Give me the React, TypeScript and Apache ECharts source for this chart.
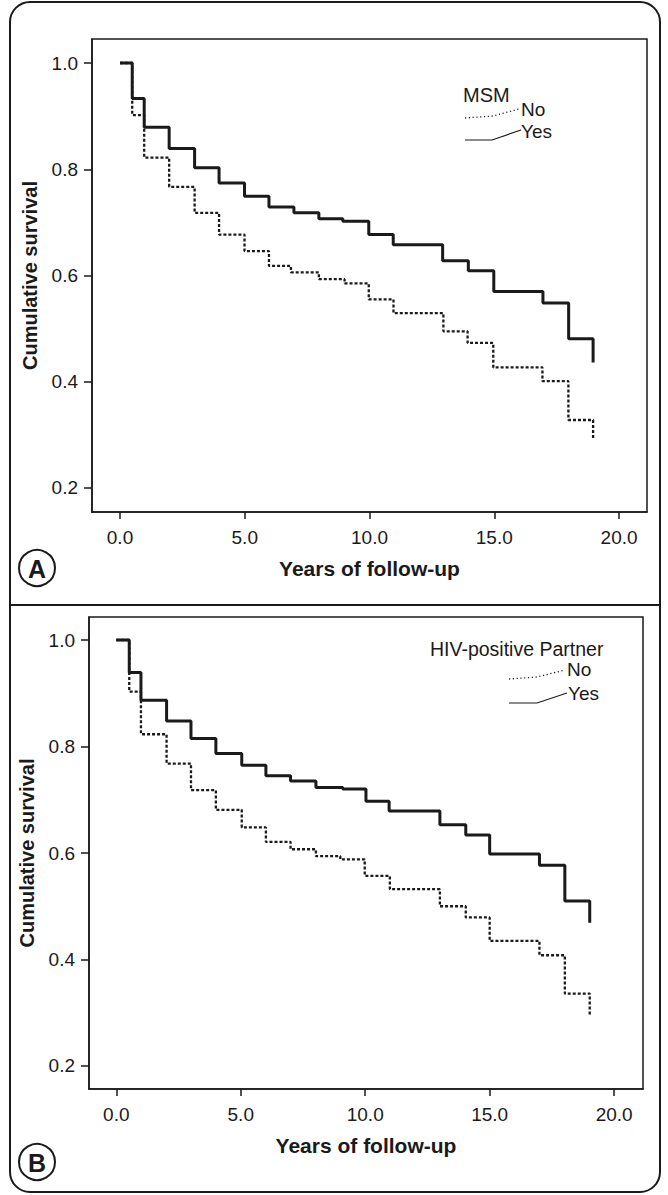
import React, { useEffect, useRef } from "react";
import * as echarts from "echarts";

// Tick values shared by both panels
const xTicks = [0, 5, 10, 15, 20];
const yTicks = [0.2, 0.4, 0.6, 0.8, 1.0];

// Panel A: MSM
const aNoT = [0, 0.49, 0.97, 1.97, 2.99, 3.97, 4.99, 5.97, 6.85, 7.97, 9.0, 9.97, 10.96, 12.96, 13.93, 14.96, 16.93, 17.97, 18.96];
const aNoS = [1.0, 0.902, 0.822, 0.767, 0.718, 0.677, 0.646, 0.618, 0.606, 0.593, 0.585, 0.555, 0.529, 0.495, 0.473, 0.427, 0.401, 0.328, 0.292];
const aYesT = [0, 0.49, 0.97, 1.97, 2.99, 3.97, 4.99, 5.97, 6.97, 7.97, 8.93, 9.97, 10.95, 12.93, 13.96, 14.98, 16.95, 17.98, 18.96];
const aYesS = [1.0, 0.933, 0.879, 0.839, 0.803, 0.774, 0.749, 0.729, 0.718, 0.707, 0.702, 0.677, 0.658, 0.628, 0.609, 0.57, 0.548, 0.481, 0.436];

// Panel B: HIV-positive Partner
const bNoT = [0, 0.52, 0.99, 2.02, 3.0, 4.0, 5.04, 6.01, 7.0, 8.02, 9.0, 9.98, 10.99, 13.0, 14.04, 15.0, 17.0, 18.02, 19.02];
const bNoS = [1.0, 0.903, 0.823, 0.768, 0.718, 0.681, 0.648, 0.621, 0.607, 0.594, 0.588, 0.557, 0.532, 0.5, 0.479, 0.435, 0.408, 0.336, 0.294];
const bYesT = [0, 0.52, 0.99, 2.02, 3.0, 4.0, 5.04, 6.01, 7.0, 8.02, 9.1, 10.03, 10.96, 13.0, 14.04, 15.0, 17.0, 18.02, 19.02];
const bYesS = [1.0, 0.939, 0.887, 0.848, 0.815, 0.787, 0.765, 0.745, 0.735, 0.723, 0.72, 0.697, 0.679, 0.653, 0.634, 0.598, 0.577, 0.51, 0.469];

const legendTitleA = "MSM";
const legendTitleB = "HIV-positive Partner";
const groupLabels = ["No", "Yes"];
const xName = "Years of follow-up";
const yName = "Cumulative survival";

const FONT = '"Liberation Sans", Arial, Helvetica, sans-serif';
const INK = "#1a1a1a";

function pairs(t: number[], s: number[]) {
  return t.map((v, i) => [v, s[i]]);
}

export default function App() {
  const ref = useRef<HTMLDivElement>(null);

  useEffect(() => {
    if (!ref.current) return;
    const chart = echarts.init(ref.current, null, { renderer: "svg" });

    const xAxis = (gridIndex: number, min: number, max: number) => ({
      type: "value",
      gridIndex,
      min,
      max,
      name: xName,
      nameLocation: "middle",
      nameGap: 46,
      nameTextStyle: { fontFamily: FONT, fontWeight: "bold", fontSize: 21, color: INK },
      axisLine: { show: true, onZero: false, lineStyle: { color: INK, width: 1.5 } },
      axisTick: { show: true, length: 7, customValues: xTicks, lineStyle: { color: INK, width: 1.5 } },
      axisLabel: {
        customValues: xTicks,
        formatter: (v: number) => v.toFixed(1),
        fontFamily: FONT,
        fontSize: 19,
        color: INK,
        margin: 16,
      },
      splitLine: { show: false },
    });

    const yAxis = (gridIndex: number, min: number, max: number) => ({
      type: "value",
      gridIndex,
      min,
      max,
      name: yName,
      nameLocation: "middle",
      nameGap: 52,
      nameTextStyle: { fontFamily: FONT, fontWeight: "bold", fontSize: 20, color: INK },
      axisLine: { show: true, onZero: false, lineStyle: { color: INK, width: 1.5 } },
      axisTick: { show: true, length: 8, customValues: yTicks, lineStyle: { color: INK, width: 1.5 } },
      axisLabel: {
        customValues: yTicks,
        formatter: (v: number) => v.toFixed(1),
        fontFamily: FONT,
        fontSize: 19,
        color: INK,
        margin: 14,
      },
      splitLine: { show: false },
    });

    const solid = { color: INK, width: 3, type: "solid" };
    const dotted = { color: INK, width: 2.3, type: [3, 2] };

    const series = [
      { name: "A No", data: pairs(aNoT, aNoS), xi: 0, ls: dotted },
      { name: "A Yes", data: pairs(aYesT, aYesS), xi: 0, ls: solid },
      { name: "B No", data: pairs(bNoT, bNoS), xi: 1, ls: dotted },
      { name: "B Yes", data: pairs(bYesT, bYesS), xi: 1, ls: solid },
    ].map((s) => ({
      type: "line",
      name: s.name,
      xAxisIndex: s.xi,
      yAxisIndex: s.xi,
      step: "end",
      symbol: "none",
      data: s.data,
      lineStyle: s.ls,
      silent: true,
    }));

    const txt = (x: number, y: number, text: string, size = 19, weight = "normal", align = "left") => ({
      type: "text",
      x,
      y,
      style: {
        text,
        fontFamily: FONT,
        fontSize: size,
        fontWeight: weight,
        fill: INK,
        textAlign: align,
        textVerticalAlign: "middle",
      },
      z: 10,
    });

    const pl = (points: number[][], dash: any, width: number) => ({
      type: "polyline",
      shape: { points },
      style: { fill: "none", stroke: INK, lineWidth: width, lineDash: dash },
      z: 10,
    });

    const graphic = [
      // outer frame and divider
      {
        type: "rect",
        shape: { x: 10, y: 2, width: 650, height: 1190, r: 20 },
        style: { fill: "none", stroke: INK, lineWidth: 2 },
      },
      {
        type: "line",
        shape: { x1: 10, y1: 605, x2: 660, y2: 605 },
        style: { stroke: INK, lineWidth: 2 },
      },
      // panel letters
      { type: "circle", shape: { cx: 37, cy: 568, r: 18 }, style: { fill: "#fff", stroke: INK, lineWidth: 2 } },
      txt(37, 569, "A", 25, "bold", "center"),
      { type: "circle", shape: { cx: 37, cy: 1162, r: 18 }, style: { fill: "#fff", stroke: INK, lineWidth: 2 } },
      txt(37, 1163, "B", 25, "bold", "center"),
      // legend A
      txt(463, 95, legendTitleA, 20),
      txt(521, 109, groupLabels[0]),
      txt(521, 131, groupLabels[1]),
      pl([[465, 118], [493, 116], [519, 109]], [1.2, 2.6], 1.3),
      pl([[465, 140], [492, 140], [521, 130]], null, 1.2),
      // legend B
      txt(430, 649, legendTitleB, 19.5),
      txt(567, 669.5, groupLabels[0]),
      txt(568, 693, groupLabels[1]),
      pl([[509, 679], [537, 677], [565, 670]], [1.2, 2.6], 1.3),
      pl([[509, 703], [537, 703], [567, 693]], null, 1.2),
    ];

    chart.setOption({
      animation: false,
      backgroundColor: "#fff",
      grid: [
        { left: 92, top: 39, width: 555, height: 473, show: true, borderColor: INK, borderWidth: 1.5, backgroundColor: "transparent" },
        { left: 89, top: 617, width: 554, height: 472, show: true, borderColor: INK, borderWidth: 1.5, backgroundColor: "transparent" },
      ],
      xAxis: [xAxis(0, -1.122, 21.12), xAxis(1, -1.097, 21.16)],
      yAxis: [yAxis(0, 0.1548, 1.0452), yAxis(1, 0.1568, 1.0432)],
      series,
      graphic,
    });

    return () => chart.dispose();
  }, []);

  return (
    <div
      ref={ref}
      style={{ position: "absolute", left: 0, top: 0, width: 668, height: 1195, background: "#fff" }}
    />
  );
}
